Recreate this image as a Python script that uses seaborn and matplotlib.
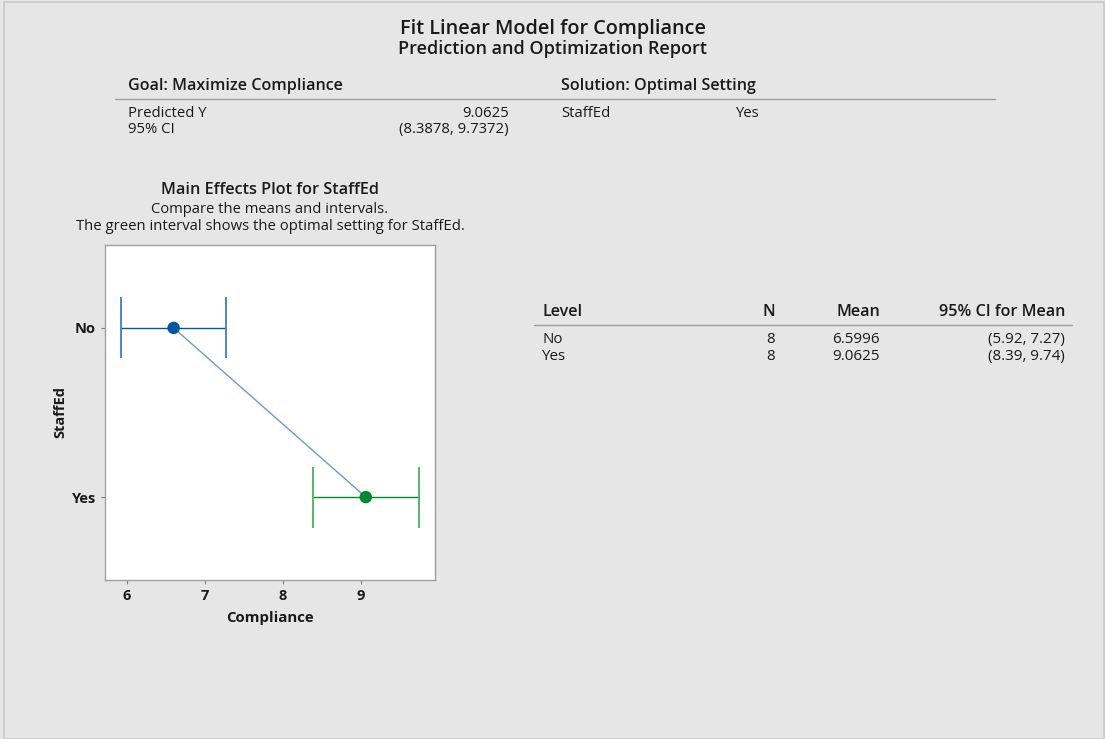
import matplotlib
matplotlib.use("Agg")
import matplotlib.pyplot as plt
import seaborn as sns
import pandas as pd
from matplotlib.patches import Rectangle

levels = ["No", "Yes"]
n_obs = [8, 8]
means = [6.5996, 9.0625]
ci_low = [5.92, 8.39]
ci_high = [7.27, 9.74]
ci_text = ["(5.92, 7.27)", "(8.39, 9.74)"]
level_colors = ["#0055a5", "#00892f"]
cap_colors = ["#3d7fc4", "#4caf63"]

predicted_y = "9.0625"
predicted_ci = "(8.3878, 9.7372)"
optimal_setting = "Yes"

BG = "#e6e6e6"
TXT = "#1a1a1a"

sns.set_theme(style="white")
plt.rcParams["font.family"] = ["Open Sans", "DejaVu Sans"]

fig = plt.figure(figsize=(11.05, 7.39), dpi=100)
fig.patch.set_facecolor(BG)
fig.patches.append(Rectangle((0.004, 0.0), 0.995, 0.997, transform=fig.transFigure,
                             fill=False, edgecolor="#c8c8c8", lw=1.2))


def label(x, y, s, size, ha="left", weight="normal"):
    # y = centro delle maiuscole nel riferimento (pixel) -> posiziona sulla baseline
    base = y + 0.36 * size * 100 / 72
    fig.text(x / 1105, 1 - base / 739, s, ha=ha, va="baseline", fontsize=size,
             fontweight=weight, color=TXT)


# Titoli
label(553, 27, "Fit Linear Model for Compliance", 14.3, "center", "semibold")
label(553, 47, "Prediction and Optimization Report", 13, "center", "semibold")

# Goal / Solution
label(128, 84, "Goal: Maximize Compliance", 11.6, weight="semibold")
label(561, 84, "Solution: Optimal Setting", 11.6, weight="semibold")
fig.add_artist(plt.Line2D([115 / 1105, 995 / 1105], [1 - 99 / 739] * 2,
                          transform=fig.transFigure, color="#a0a0a0", lw=1))
label(128, 112, "Predicted Y", 10.7)
label(509, 112, predicted_y, 10.7, "right")
label(128, 128, "95% CI", 10.7)
label(509, 128, predicted_ci, 10.7, "right")
label(561, 112, "StaffEd", 10.7)
label(735, 112, optimal_setting, 10.7)

# Testo del main effects plot
label(270, 188, "Main Effects Plot for StaffEd", 11.7, "center", "semibold")
label(270, 208, "Compare the means and intervals.", 10.6, "center")
label(270, 225, "The green interval shows the optimal setting for StaffEd.", 10.7, "center")

# Grafico
ax = fig.add_axes([105 / 1105, 1 - 580 / 739, 330 / 1105, 335 / 739])
ax.set_facecolor("white")
df = pd.DataFrame({"level": levels, "pos": range(len(levels)), "mean": means})

sns.lineplot(data=df, x="mean", y="pos", ax=ax, color="#6a9bd1", lw=1, sort=False,
             estimator=None, zorder=2)
for i, lvl in enumerate(levels):
    ax.errorbar(means[i], i, xerr=[[means[i] - ci_low[i]], [ci_high[i] - means[i]]],
                fmt="none", ecolor=level_colors[i], elinewidth=1, capsize=0, zorder=3)
    ax.vlines([ci_low[i], ci_high[i]], i - 0.18, i + 0.18, color=cap_colors[i], lw=1.3, zorder=3)
sns.scatterplot(data=df, x="mean", y="pos", hue="level", palette=level_colors, s=80,
                edgecolor="none", legend=False, ax=ax, zorder=4)

ax.set_xlim(5.72, 9.95)
ax.set_ylim(1.49, -0.49)
ax.set_xticks([6, 7, 8, 9])
ax.set_yticks(range(len(levels)))
ax.set_yticklabels(levels)
ax.tick_params(axis="both", length=3, width=0.8, color="#808080", labelsize=10.5,
               labelcolor=TXT, bottom=True, left=True)
for lab in ax.get_xticklabels() + ax.get_yticklabels():
    lab.set_fontweight("bold")
ax.set_xlabel("Compliance", fontsize=10.8, fontweight="bold", color=TXT, labelpad=6)
ax.set_ylabel("StaffEd", fontsize=10.5, fontweight="bold", color=TXT, labelpad=3)
for sp in ax.spines.values():
    sp.set_color("#a0a0a0")
    sp.set_linewidth(1)

# Tabella dei livelli
label(542, 310, "Level", 11.6, weight="semibold")
label(775, 310, "N", 11.6, "right", "semibold")
label(880, 310, "Mean", 11.6, "right", "semibold")
label(1065, 310, "95% CI for Mean", 11.6, "right", "semibold")
fig.add_artist(plt.Line2D([534 / 1105, 1072 / 1105], [1 - 325 / 739] * 2,
                          transform=fig.transFigure, color="#a0a0a0", lw=1))
for i, lvl in enumerate(levels):
    y = 338 + 17 * i
    label(542, y, lvl, 10.9)
    label(775, y, str(n_obs[i]), 10.9, "right")
    label(880, y, f"{means[i]:.4f}", 10.9, "right")
    label(1065, y, ci_text[i], 10.9, "right")

fig.savefig("out.png", dpi=100, facecolor=BG)
